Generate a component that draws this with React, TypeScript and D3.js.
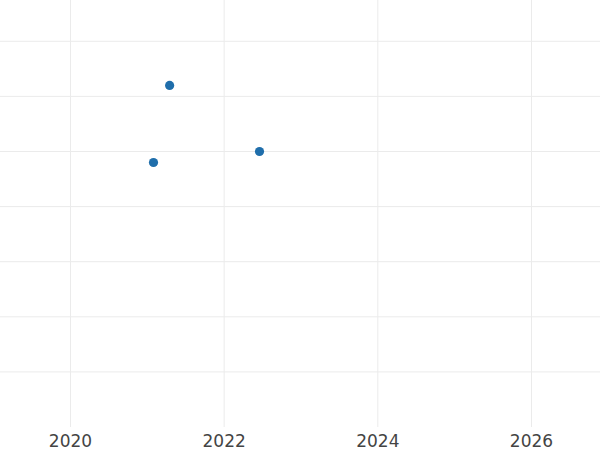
import React from "react";
import * as d3 from "d3";

const xValues = [2021.29, 2021.08, 2022.46];
const yValues = [5.2, 3.8, 4.0];
const xTicks = [2020, 2022, 2024, 2026];
const yTicks = [0, 1, 2, 3, 4, 5, 6];

const W = 600;
const H = 450;
const plotBottom = 427;

export default function App() {
  const x = d3.scaleLinear().domain([2020, 2026]).range([70.5, 531.5]);
  const y = d3.scaleLinear().domain([0, 6]).range([371.9, 41.3]);
  return (
    <svg width={W} height={H} style={{ position: "absolute", left: 0, top: 0, background: "#fff" }}>
      <g>
        {yTicks.map((t) => (
          <line key={"h" + t} x1={0} x2={W} y1={y(t)} y2={y(t)} stroke="#ebebeb" strokeWidth={1} />
        ))}
        {xTicks.map((t) => (
          <line key={"v" + t} x1={x(t)} x2={x(t)} y1={0} y2={plotBottom} stroke="#ebebeb" strokeWidth={1} />
        ))}
      </g>
      <g>
        {xValues.map((v, i) => (
          <circle key={i} cx={x(v)} cy={y(yValues[i])} r={4.6} fill="#1f6eab" />
        ))}
      </g>
      <g fontFamily="DejaVu Sans" fontSize={17} fill="#444" textAnchor="middle">
        {xTicks.map((t) => (
          <text key={t} x={x(t)} y={447}>
            {t}
          </text>
        ))}
      </g>
    </svg>
  );
}
